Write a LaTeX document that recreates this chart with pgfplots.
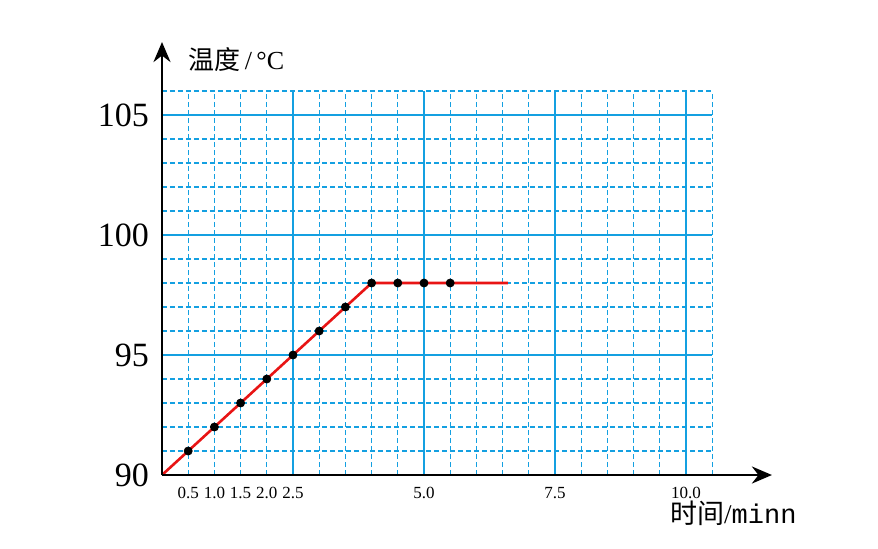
\documentclass[border=0pt]{standalone}
\usepackage{pgfplots}
\pgfplotsset{compat=1.18}
\usepackage{fontspec}
\setmainfont{Liberation Serif}
\newfontfamily\cjk{Noto Sans CJK SC}
\newfontfamily\mono{Liberation Mono}
\usetikzlibrary{arrows.meta}
\definecolor{gridblue}{RGB}{20,160,225}
\definecolor{dashblue}{RGB}{20,160,225}
\definecolor{linered}{RGB}{232,20,20}

\begin{document}
\begin{tikzpicture}
\useasboundingbox (-81pt,-36.5pt) rectangle (358pt,237.5pt);
\begin{axis}[
    at={(0,0)}, anchor=south west,
    x=26.2pt, y=12pt,
    xmin=0, xmax=11.64, ymin=90, ymax=108.04,
    axis lines=left,
    axis line style={line width=1.3pt, -{Stealth[length=10pt,width=8.5pt]}},
    xtick={0.5,1,1.5,2,2.5,5,7.5,10},
    xticklabels={0.5,1.0,1.5,2.0,2.5,5.0,7.5,10.0},
    ytick={90,95,100,105},
    major tick length=0,
    tick style={draw=none},
    xticklabel style={font=\fontsize{8.5}{8.5}\selectfont, yshift=-2.5pt},
    yticklabel style={font=\fontsize{17}{17}\selectfont, xshift=-3pt},
    /pgf/number format/assume math mode=true,
    clip=false,
    axis on top,
]
% grid: dashed every 1 and 0.5, solid at 5 / 2.5
\pgfplotsinvokeforeach{91,92,93,94,96,97,98,99,101,102,103,104,106}{
    \draw[dashblue, line width=0.6pt, dash pattern=on 2.5pt off 1.5pt] (axis cs:0,#1) -- (axis cs:10.5,#1);
}
\pgfplotsinvokeforeach{95,100,105}{
    \draw[gridblue, line width=0.55pt] (axis cs:0,#1) -- (axis cs:10.5,#1);
}
\pgfplotsinvokeforeach{0.5,1,1.5,2,3,3.5,4,4.5,5.5,6,6.5,7,8,8.5,9,9.5,10.5}{
    \draw[dashblue, line width=0.6pt, dash pattern=on 2.5pt off 1.5pt] (axis cs:#1,90) -- (axis cs:#1,106);
}
\pgfplotsinvokeforeach{2.5,7.5,10}{
    \draw[gridblue, line width=0.55pt] (axis cs:#1,90) -- (axis cs:#1,106);
}
\draw[gridblue, line width=1.3pt] (axis cs:5,90) -- (axis cs:5,106);

\addplot[linered, line width=1.3pt] coordinates {
    (0,90) (0.5,91) (1,92) (1.5,93) (2,94) (2.5,95) (3,96) (3.5,97)
    (4,98) (4.5,98) (5,98) (5.5,98) (6.6,98)
};
\addplot[only marks, mark=*, mark size=2pt, black] coordinates {
    (0.5,91) (1,92) (1.5,93) (2,94) (2.5,95) (3,96) (3.5,97)
    (4,98) (4.5,98) (5,98) (5.5,98)
};

\node[anchor=west, inner sep=0] at (axis cs:0.5,107.3)
    {\fontsize{13}{13}\selectfont{\cjk 温度}\,/\,°C};
\node[anchor=west, inner sep=0] at (axis cs:9.69,88.42)
    {\fontsize{13.5}{13.5}\selectfont{\cjk 时间}/{\mono minn}};
\end{axis}
\end{tikzpicture}
\end{document}
